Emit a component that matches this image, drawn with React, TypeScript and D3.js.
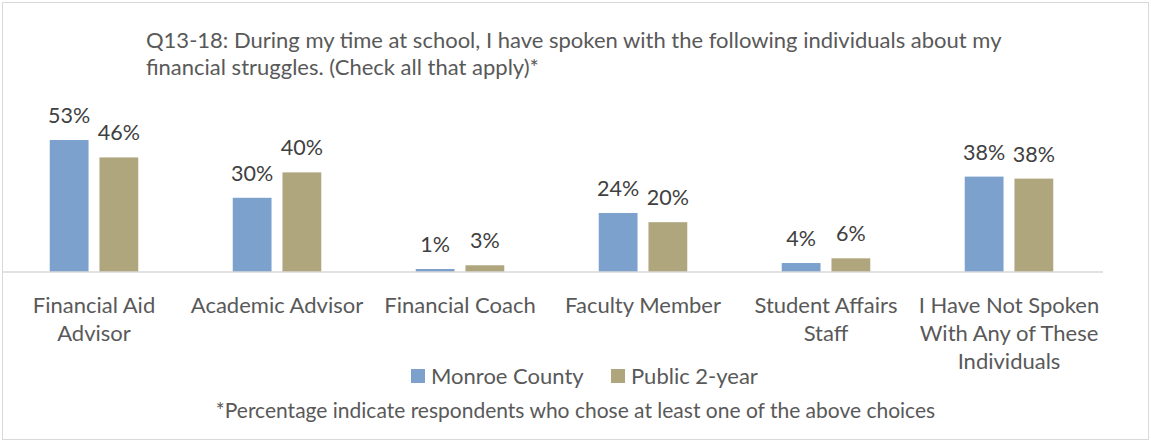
import React from "react";
import * as d3 from "d3";

const categories: string[][] = [
  ["Financial Aid", "Advisor"],
  ["Academic Advisor"],
  ["Financial Coach"],
  ["Faculty Member"],
  ["Student Affairs", "Staff"],
  ["I Have Not Spoken", "With Any of These", "Individuals"],
];
const seriesNames = ["Monroe County", "Public 2-year"];
const monroe = [53, 30, 1, 24, 4, 38];
const public2 = [46, 40, 3, 20, 6, 38];
const monroeBar = [53, 29.8, 1.2, 23.7, 3.6, 38.3];
const publicBar = [46, 40, 2.7, 20, 5.5, 37.5];
const titleLines = [
  "Q13-18: During my time at school, I have spoken with the following individuals about my",
  "financial struggles. (Check all that apply)*",
];
const footnote = "*Percentage indicate respondents who chose at least one of the above choices";
const colors = ["#7BA1CC", "#AFA67E"];

const W = 1151;
const H = 442;
const FONT = "Lato, 'Open Sans', sans-serif";

export default function App() {
  const x0 = d3.scaleBand<number>().domain(d3.range(categories.length)).range([2.5, 1100.5]).paddingInner(0).paddingOuter(0);
  const x1 = d3.scaleBand<number>().domain([0, 1]).range([0, x0.bandwidth()]).paddingInner(0.22).paddingOuter(0.95);
  const y = d3.scaleLinear().domain([0, 53]).range([272, 140]);
  const series = [monroeBar, publicBar];
  const labels = [monroe, public2];

  return (
    <svg width={W} height={H} style={{ position: "absolute", left: 0, top: 0, fontFamily: FONT }}>
      <rect x={0} y={0} width={W} height={H} fill="#fff" />
      <rect x={2.5} y={2.5} width={1146} height={437} fill="#fff" stroke="#d9d9d9" />
      {titleLines.map((t, i) => (
        <text key={i} x={146} y={48 + i * 27} fontSize={22} fill="#595959">{t}</text>
      ))}
      {categories.map((_, ci) => (
        <g key={ci} transform={`translate(${x0(ci)},0)`}>
          {series.map((s, si) => (
            <g key={si}>
              <rect x={x1(si)} y={y(s[ci])} width={x1.bandwidth()} height={272 - y(s[ci])} fill={colors[si]} />
              <text x={(x1(si) as number) + x1.bandwidth() / 2} y={y(s[ci]) - 17} textAnchor="middle" fontSize={21.5} fill="#404040">
                {labels[si][ci]}%
              </text>
            </g>
          ))}
        </g>
      ))}
      <line x1={3} x2={1103} y1={272} y2={272} stroke="#d9d9d9" strokeWidth={1.5} />
      {categories.map((lines, ci) => (
        <text key={ci} textAnchor="middle" fontSize={22} fill="#595959">
          {lines.map((l, li) => (
            <tspan key={li} x={(x0(ci) as number) + x0.bandwidth() / 2} y={313 + li * 28}>{l}</tspan>
          ))}
        </text>
      ))}
      {seriesNames.map((n, i) => {
        const lx = [411, 611][i];
        return (
          <g key={n}>
            <rect x={lx} y={369} width={14} height={14} fill={colors[i]} />
            <text x={lx + 20} y={384} fontSize={22} fill="#595959">{n}</text>
          </g>
        );
      })}
      <text x={575.5} y={418} textAnchor="middle" fontSize={21} fill="#595959">{footnote}</text>
    </svg>
  );
}
